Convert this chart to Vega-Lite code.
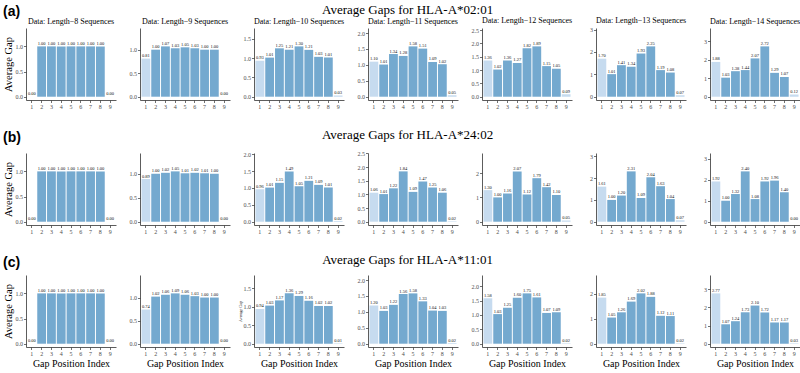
{
"$schema":"https://vega.github.io/schema/vega-lite/v6.json",
"padding":{"left":3,"top":3,"right":0,"bottom":0},
"data":{"values":[
{"allele":"HLA-A*02:01","len":8,"pos":1,"gap":0},{"allele":"HLA-A*02:01","len":8,"pos":2,"gap":1},{"allele":"HLA-A*02:01","len":8,"pos":3,"gap":1},{"allele":"HLA-A*02:01","len":8,"pos":4,"gap":1},{"allele":"HLA-A*02:01","len":8,"pos":5,"gap":1},{"allele":"HLA-A*02:01","len":8,"pos":6,"gap":1},{"allele":"HLA-A*02:01","len":8,"pos":7,"gap":1},{"allele":"HLA-A*02:01","len":8,"pos":8,"gap":1},{"allele":"HLA-A*02:01","len":8,"pos":9,"gap":0},
{"allele":"HLA-A*02:01","len":9,"pos":1,"gap":0.81},{"allele":"HLA-A*02:01","len":9,"pos":2,"gap":1.00},{"allele":"HLA-A*02:01","len":9,"pos":3,"gap":1.07},{"allele":"HLA-A*02:01","len":9,"pos":4,"gap":1.03},{"allele":"HLA-A*02:01","len":9,"pos":5,"gap":1.05},{"allele":"HLA-A*02:01","len":9,"pos":6,"gap":1.03},{"allele":"HLA-A*02:01","len":9,"pos":7,"gap":1.00},{"allele":"HLA-A*02:01","len":9,"pos":8,"gap":1.00},{"allele":"HLA-A*02:01","len":9,"pos":9,"gap":0.00},
{"allele":"HLA-A*02:01","len":10,"pos":1,"gap":0.93},{"allele":"HLA-A*02:01","len":10,"pos":2,"gap":1.01},{"allele":"HLA-A*02:01","len":10,"pos":3,"gap":1.25},{"allele":"HLA-A*02:01","len":10,"pos":4,"gap":1.21},{"allele":"HLA-A*02:01","len":10,"pos":5,"gap":1.30},{"allele":"HLA-A*02:01","len":10,"pos":6,"gap":1.21},{"allele":"HLA-A*02:01","len":10,"pos":7,"gap":1.03},{"allele":"HLA-A*02:01","len":10,"pos":8,"gap":1.01},{"allele":"HLA-A*02:01","len":10,"pos":9,"gap":0.03},
{"allele":"HLA-A*02:01","len":11,"pos":1,"gap":1.10},{"allele":"HLA-A*02:01","len":11,"pos":2,"gap":1.01},{"allele":"HLA-A*02:01","len":11,"pos":3,"gap":1.34},{"allele":"HLA-A*02:01","len":11,"pos":4,"gap":1.28},{"allele":"HLA-A*02:01","len":11,"pos":5,"gap":1.58},{"allele":"HLA-A*02:01","len":11,"pos":6,"gap":1.51},{"allele":"HLA-A*02:01","len":11,"pos":7,"gap":1.09},{"allele":"HLA-A*02:01","len":11,"pos":8,"gap":1.02},{"allele":"HLA-A*02:01","len":11,"pos":9,"gap":0.05},
{"allele":"HLA-A*02:01","len":12,"pos":1,"gap":1.36},{"allele":"HLA-A*02:01","len":12,"pos":2,"gap":1.02},{"allele":"HLA-A*02:01","len":12,"pos":3,"gap":1.36},{"allele":"HLA-A*02:01","len":12,"pos":4,"gap":1.27},{"allele":"HLA-A*02:01","len":12,"pos":5,"gap":1.82},{"allele":"HLA-A*02:01","len":12,"pos":6,"gap":1.89},{"allele":"HLA-A*02:01","len":12,"pos":7,"gap":1.15},{"allele":"HLA-A*02:01","len":12,"pos":8,"gap":1.05},{"allele":"HLA-A*02:01","len":12,"pos":9,"gap":0.09},
{"allele":"HLA-A*02:01","len":13,"pos":1,"gap":1.70},{"allele":"HLA-A*02:01","len":13,"pos":2,"gap":1.01},{"allele":"HLA-A*02:01","len":13,"pos":3,"gap":1.41},{"allele":"HLA-A*02:01","len":13,"pos":4,"gap":1.34},{"allele":"HLA-A*02:01","len":13,"pos":5,"gap":1.93},{"allele":"HLA-A*02:01","len":13,"pos":6,"gap":2.25},{"allele":"HLA-A*02:01","len":13,"pos":7,"gap":1.19},{"allele":"HLA-A*02:01","len":13,"pos":8,"gap":1.08},{"allele":"HLA-A*02:01","len":13,"pos":9,"gap":0.07},
{"allele":"HLA-A*02:01","len":14,"pos":1,"gap":1.88},{"allele":"HLA-A*02:01","len":14,"pos":2,"gap":1.03},{"allele":"HLA-A*02:01","len":14,"pos":3,"gap":1.38},{"allele":"HLA-A*02:01","len":14,"pos":4,"gap":1.44},{"allele":"HLA-A*02:01","len":14,"pos":5,"gap":2.07},{"allele":"HLA-A*02:01","len":14,"pos":6,"gap":2.72},{"allele":"HLA-A*02:01","len":14,"pos":7,"gap":1.29},{"allele":"HLA-A*02:01","len":14,"pos":8,"gap":1.07},{"allele":"HLA-A*02:01","len":14,"pos":9,"gap":0.12},
{"allele":"HLA-A*24:02","len":8,"pos":1,"gap":0},{"allele":"HLA-A*24:02","len":8,"pos":2,"gap":1},{"allele":"HLA-A*24:02","len":8,"pos":3,"gap":1},{"allele":"HLA-A*24:02","len":8,"pos":4,"gap":1},{"allele":"HLA-A*24:02","len":8,"pos":5,"gap":1},{"allele":"HLA-A*24:02","len":8,"pos":6,"gap":1},{"allele":"HLA-A*24:02","len":8,"pos":7,"gap":1},{"allele":"HLA-A*24:02","len":8,"pos":8,"gap":1},{"allele":"HLA-A*24:02","len":8,"pos":9,"gap":0},
{"allele":"HLA-A*24:02","len":9,"pos":1,"gap":0.89},{"allele":"HLA-A*24:02","len":9,"pos":2,"gap":1.00},{"allele":"HLA-A*24:02","len":9,"pos":3,"gap":1.02},{"allele":"HLA-A*24:02","len":9,"pos":4,"gap":1.05},{"allele":"HLA-A*24:02","len":9,"pos":5,"gap":1.01},{"allele":"HLA-A*24:02","len":9,"pos":6,"gap":1.02},{"allele":"HLA-A*24:02","len":9,"pos":7,"gap":1.01},{"allele":"HLA-A*24:02","len":9,"pos":8,"gap":1.00},{"allele":"HLA-A*24:02","len":9,"pos":9,"gap":0.00},
{"allele":"HLA-A*24:02","len":10,"pos":1,"gap":0.96},{"allele":"HLA-A*24:02","len":10,"pos":2,"gap":1.01},{"allele":"HLA-A*24:02","len":10,"pos":3,"gap":1.15},{"allele":"HLA-A*24:02","len":10,"pos":4,"gap":1.49},{"allele":"HLA-A*24:02","len":10,"pos":5,"gap":1.05},{"allele":"HLA-A*24:02","len":10,"pos":6,"gap":1.21},{"allele":"HLA-A*24:02","len":10,"pos":7,"gap":1.09},{"allele":"HLA-A*24:02","len":10,"pos":8,"gap":1.01},{"allele":"HLA-A*24:02","len":10,"pos":9,"gap":0.02},
{"allele":"HLA-A*24:02","len":11,"pos":1,"gap":1.06},{"allele":"HLA-A*24:02","len":11,"pos":2,"gap":1.01},{"allele":"HLA-A*24:02","len":11,"pos":3,"gap":1.22},{"allele":"HLA-A*24:02","len":11,"pos":4,"gap":1.84},{"allele":"HLA-A*24:02","len":11,"pos":5,"gap":1.09},{"allele":"HLA-A*24:02","len":11,"pos":6,"gap":1.47},{"allele":"HLA-A*24:02","len":11,"pos":7,"gap":1.25},{"allele":"HLA-A*24:02","len":11,"pos":8,"gap":1.06},{"allele":"HLA-A*24:02","len":11,"pos":9,"gap":0.02},
{"allele":"HLA-A*24:02","len":12,"pos":1,"gap":1.30},{"allele":"HLA-A*24:02","len":12,"pos":2,"gap":1.00},{"allele":"HLA-A*24:02","len":12,"pos":3,"gap":1.16},{"allele":"HLA-A*24:02","len":12,"pos":4,"gap":2.07},{"allele":"HLA-A*24:02","len":12,"pos":5,"gap":1.12},{"allele":"HLA-A*24:02","len":12,"pos":6,"gap":1.79},{"allele":"HLA-A*24:02","len":12,"pos":7,"gap":1.42},{"allele":"HLA-A*24:02","len":12,"pos":8,"gap":1.10},{"allele":"HLA-A*24:02","len":12,"pos":9,"gap":0.05},
{"allele":"HLA-A*24:02","len":13,"pos":1,"gap":1.61},{"allele":"HLA-A*24:02","len":13,"pos":2,"gap":1.00},{"allele":"HLA-A*24:02","len":13,"pos":3,"gap":1.20},{"allele":"HLA-A*24:02","len":13,"pos":4,"gap":2.31},{"allele":"HLA-A*24:02","len":13,"pos":5,"gap":1.09},{"allele":"HLA-A*24:02","len":13,"pos":6,"gap":2.04},{"allele":"HLA-A*24:02","len":13,"pos":7,"gap":1.63},{"allele":"HLA-A*24:02","len":13,"pos":8,"gap":1.04},{"allele":"HLA-A*24:02","len":13,"pos":9,"gap":0.07},
{"allele":"HLA-A*24:02","len":14,"pos":1,"gap":1.92},{"allele":"HLA-A*24:02","len":14,"pos":2,"gap":1.00},{"allele":"HLA-A*24:02","len":14,"pos":3,"gap":1.32},{"allele":"HLA-A*24:02","len":14,"pos":4,"gap":2.40},{"allele":"HLA-A*24:02","len":14,"pos":5,"gap":1.08},{"allele":"HLA-A*24:02","len":14,"pos":6,"gap":1.92},{"allele":"HLA-A*24:02","len":14,"pos":7,"gap":1.96},{"allele":"HLA-A*24:02","len":14,"pos":8,"gap":1.40},{"allele":"HLA-A*24:02","len":14,"pos":9,"gap":0.00},
{"allele":"HLA-A*11:01","len":8,"pos":1,"gap":0},{"allele":"HLA-A*11:01","len":8,"pos":2,"gap":1},{"allele":"HLA-A*11:01","len":8,"pos":3,"gap":1},{"allele":"HLA-A*11:01","len":8,"pos":4,"gap":1},{"allele":"HLA-A*11:01","len":8,"pos":5,"gap":1},{"allele":"HLA-A*11:01","len":8,"pos":6,"gap":1},{"allele":"HLA-A*11:01","len":8,"pos":7,"gap":1},{"allele":"HLA-A*11:01","len":8,"pos":8,"gap":1},{"allele":"HLA-A*11:01","len":8,"pos":9,"gap":0},
{"allele":"HLA-A*11:01","len":9,"pos":1,"gap":0.74},{"allele":"HLA-A*11:01","len":9,"pos":2,"gap":1.02},{"allele":"HLA-A*11:01","len":9,"pos":3,"gap":1.06},{"allele":"HLA-A*11:01","len":9,"pos":4,"gap":1.09},{"allele":"HLA-A*11:01","len":9,"pos":5,"gap":1.06},{"allele":"HLA-A*11:01","len":9,"pos":6,"gap":1.03},{"allele":"HLA-A*11:01","len":9,"pos":7,"gap":1.00},{"allele":"HLA-A*11:01","len":9,"pos":8,"gap":1.00},{"allele":"HLA-A*11:01","len":9,"pos":9,"gap":0.00},
{"allele":"HLA-A*11:01","len":10,"pos":1,"gap":0.94},{"allele":"HLA-A*11:01","len":10,"pos":2,"gap":1.03},{"allele":"HLA-A*11:01","len":10,"pos":3,"gap":1.17},{"allele":"HLA-A*11:01","len":10,"pos":4,"gap":1.36},{"allele":"HLA-A*11:01","len":10,"pos":5,"gap":1.29},{"allele":"HLA-A*11:01","len":10,"pos":6,"gap":1.16},{"allele":"HLA-A*11:01","len":10,"pos":7,"gap":1.02},{"allele":"HLA-A*11:01","len":10,"pos":8,"gap":1.02},{"allele":"HLA-A*11:01","len":10,"pos":9,"gap":0.01},
{"allele":"HLA-A*11:01","len":11,"pos":1,"gap":1.20},{"allele":"HLA-A*11:01","len":11,"pos":2,"gap":1.03},{"allele":"HLA-A*11:01","len":11,"pos":3,"gap":1.22},{"allele":"HLA-A*11:01","len":11,"pos":4,"gap":1.56},{"allele":"HLA-A*11:01","len":11,"pos":5,"gap":1.58},{"allele":"HLA-A*11:01","len":11,"pos":6,"gap":1.33},{"allele":"HLA-A*11:01","len":11,"pos":7,"gap":1.04},{"allele":"HLA-A*11:01","len":11,"pos":8,"gap":1.03},{"allele":"HLA-A*11:01","len":11,"pos":9,"gap":0.02},
{"allele":"HLA-A*11:01","len":12,"pos":1,"gap":1.58},{"allele":"HLA-A*11:01","len":12,"pos":2,"gap":1.03},{"allele":"HLA-A*11:01","len":12,"pos":3,"gap":1.25},{"allele":"HLA-A*11:01","len":12,"pos":4,"gap":1.60},{"allele":"HLA-A*11:01","len":12,"pos":5,"gap":1.75},{"allele":"HLA-A*11:01","len":12,"pos":6,"gap":1.61},{"allele":"HLA-A*11:01","len":12,"pos":7,"gap":1.07},{"allele":"HLA-A*11:01","len":12,"pos":8,"gap":1.09},{"allele":"HLA-A*11:01","len":12,"pos":9,"gap":0.02},
{"allele":"HLA-A*11:01","len":13,"pos":1,"gap":1.85},{"allele":"HLA-A*11:01","len":13,"pos":2,"gap":1.05},{"allele":"HLA-A*11:01","len":13,"pos":3,"gap":1.26},{"allele":"HLA-A*11:01","len":13,"pos":4,"gap":1.69},{"allele":"HLA-A*11:01","len":13,"pos":5,"gap":2.02},{"allele":"HLA-A*11:01","len":13,"pos":6,"gap":1.88},{"allele":"HLA-A*11:01","len":13,"pos":7,"gap":1.12},{"allele":"HLA-A*11:01","len":13,"pos":8,"gap":1.11},{"allele":"HLA-A*11:01","len":13,"pos":9,"gap":0.02},
{"allele":"HLA-A*11:01","len":14,"pos":1,"gap":2.77},{"allele":"HLA-A*11:01","len":14,"pos":2,"gap":1.07},{"allele":"HLA-A*11:01","len":14,"pos":3,"gap":1.24},{"allele":"HLA-A*11:01","len":14,"pos":4,"gap":1.73},{"allele":"HLA-A*11:01","len":14,"pos":5,"gap":2.10},{"allele":"HLA-A*11:01","len":14,"pos":6,"gap":1.72},{"allele":"HLA-A*11:01","len":14,"pos":7,"gap":1.17},{"allele":"HLA-A*11:01","len":14,"pos":8,"gap":1.17},{"allele":"HLA-A*11:01","len":14,"pos":9,"gap":0.03}
]},
"spacing":19,
"vconcat":[
{"title":{"text":"(a)","anchor":"start","font":"Liberation Sans","fontWeight":"bold","fontSize":14,"offset":-15},
 "vconcat":[{"title":{"text":"Average Gaps for HLA-A*02:01","anchor":"middle","fontSize":13,"offset":0,"dx":6},"bounds":"flush","spacing":24,"hconcat":[
 {"width":90,"height":72,"title":"Data: Length−8 Sequences","transform":[{"filter":"datum.allele==='HLA-A*02:01'&&datum.len===8"}],"encoding":{"x":{"field":"pos","type":"ordinal","scale":{"paddingInner":0.1,"paddingOuter":0.15},"axis":{"title":null}},"y":{"field":"gap","type":"quantitative","scale":{"domain":[-0.065,1.365],"nice":false,"zero":false},"axis":{"values":[0,0.5,1],"format":".1f","title":"Average Gap"}}},"layer":[{"mark":"bar","encoding":{"color":{"condition":{"test":"datum.pos===1||datum.pos===9","value":"#c6dbef"},"value":"#74a9cf"}}},{"mark":{"type":"text","baseline":"bottom","dy":-0.5,"fontSize":4.5,"color":"#111"},"encoding":{"text":{"field":"gap","type":"quantitative","format":".2f"}}}]},
 {"width":90,"height":72,"title":"Data: Length−9 Sequences","transform":[{"filter":"datum.allele==='HLA-A*02:01'&&datum.len===9"}],"encoding":{"x":{"field":"pos","type":"ordinal","scale":{"paddingInner":0.1,"paddingOuter":0.15},"axis":{"title":null}},"y":{"field":"gap","type":"quantitative","scale":{"domain":[-0.07,1.461],"nice":false,"zero":false},"axis":{"values":[0,0.5,1],"format":".1f","title":null}}},"layer":[{"mark":"bar","encoding":{"color":{"condition":{"test":"datum.pos===1||datum.pos===9","value":"#c6dbef"},"value":"#74a9cf"}}},{"mark":{"type":"text","baseline":"bottom","dy":-0.5,"fontSize":4.5,"color":"#111"},"encoding":{"text":{"field":"gap","type":"quantitative","format":".2f"}}}]},
 {"width":90,"height":72,"title":"Data: Length−10 Sequences","transform":[{"filter":"datum.allele==='HLA-A*02:01'&&datum.len===10"}],"encoding":{"x":{"field":"pos","type":"ordinal","scale":{"paddingInner":0.1,"paddingOuter":0.15},"axis":{"title":null}},"y":{"field":"gap","type":"quantitative","scale":{"domain":[-0.085,1.775],"nice":false,"zero":false},"axis":{"values":[0,0.5,1,1.5],"format":".1f","title":null}}},"layer":[{"mark":"bar","encoding":{"color":{"condition":{"test":"datum.pos===1||datum.pos===9","value":"#c6dbef"},"value":"#74a9cf"}}},{"mark":{"type":"text","baseline":"bottom","dy":-0.5,"fontSize":4.5,"color":"#111"},"encoding":{"text":{"field":"gap","type":"quantitative","format":".2f"}}}]},
 {"width":90,"height":72,"title":"Data: Length−11 Sequences","transform":[{"filter":"datum.allele==='HLA-A*02:01'&&datum.len===11"}],"encoding":{"x":{"field":"pos","type":"ordinal","scale":{"paddingInner":0.1,"paddingOuter":0.15},"axis":{"title":null}},"y":{"field":"gap","type":"quantitative","scale":{"domain":[-0.103,2.157],"nice":false,"zero":false},"axis":{"values":[0,0.5,1,1.5,2],"format":".1f","title":null}}},"layer":[{"mark":"bar","encoding":{"color":{"condition":{"test":"datum.pos===1||datum.pos===9","value":"#c6dbef"},"value":"#74a9cf"}}},{"mark":{"type":"text","baseline":"bottom","dy":-0.5,"fontSize":4.5,"color":"#111"},"encoding":{"text":{"field":"gap","type":"quantitative","format":".2f"}}}]},
 {"width":90,"height":72,"title":"Data: Length−12 Sequences","transform":[{"filter":"datum.allele==='HLA-A*02:01'&&datum.len===12"}],"encoding":{"x":{"field":"pos","type":"ordinal","scale":{"paddingInner":0.1,"paddingOuter":0.15},"axis":{"title":null}},"y":{"field":"gap","type":"quantitative","scale":{"domain":[-0.123,2.58],"nice":false,"zero":false},"axis":{"values":[0,0.5,1,1.5,2,2.5],"format":".1f","title":null}}},"layer":[{"mark":"bar","encoding":{"color":{"condition":{"test":"datum.pos===1||datum.pos===9","value":"#c6dbef"},"value":"#74a9cf"}}},{"mark":{"type":"text","baseline":"bottom","dy":-0.5,"fontSize":4.5,"color":"#111"},"encoding":{"text":{"field":"gap","type":"quantitative","format":".2f"}}}]},
 {"width":90,"height":72,"title":"Data: Length−13 Sequences","transform":[{"filter":"datum.allele==='HLA-A*02:01'&&datum.len===13"}],"encoding":{"x":{"field":"pos","type":"ordinal","scale":{"paddingInner":0.1,"paddingOuter":0.15},"axis":{"title":null}},"y":{"field":"gap","type":"quantitative","scale":{"domain":[-0.146,3.071],"nice":false,"zero":false},"axis":{"values":[0,1,2,3],"format":"d","title":null}}},"layer":[{"mark":"bar","encoding":{"color":{"condition":{"test":"datum.pos===1||datum.pos===9","value":"#c6dbef"},"value":"#74a9cf"}}},{"mark":{"type":"text","baseline":"bottom","dy":-0.5,"fontSize":4.5,"color":"#111"},"encoding":{"text":{"field":"gap","type":"quantitative","format":".2f"}}}]},
 {"width":90,"height":72,"title":"Data: Length−14 Sequences","transform":[{"filter":"datum.allele==='HLA-A*02:01'&&datum.len===14"}],"encoding":{"x":{"field":"pos","type":"ordinal","scale":{"paddingInner":0.1,"paddingOuter":0.15},"axis":{"title":null}},"y":{"field":"gap","type":"quantitative","scale":{"domain":[-0.177,3.713],"nice":false,"zero":false},"axis":{"values":[0,1,2,3],"format":"d","title":null}}},"layer":[{"mark":"bar","encoding":{"color":{"condition":{"test":"datum.pos===1||datum.pos===9","value":"#c6dbef"},"value":"#74a9cf"}}},{"mark":{"type":"text","baseline":"bottom","dy":-0.5,"fontSize":4.5,"color":"#111"},"encoding":{"text":{"field":"gap","type":"quantitative","format":".2f"}}}]}
 ]}]},
{"title":{"text":"(b)","anchor":"start","font":"Liberation Sans","fontWeight":"bold","fontSize":14,"offset":-16},
 "vconcat":[{"title":{"text":"Average Gaps for HLA-A*24:02","anchor":"middle","fontSize":13,"offset":8,"dx":6},"bounds":"flush","spacing":24,"hconcat":[
 {"width":90,"height":72,"transform":[{"filter":"datum.allele==='HLA-A*24:02'&&datum.len===8"}],"encoding":{"x":{"field":"pos","type":"ordinal","scale":{"paddingInner":0.1,"paddingOuter":0.15},"axis":{"title":null}},"y":{"field":"gap","type":"quantitative","scale":{"domain":[-0.065,1.365],"nice":false,"zero":false},"axis":{"values":[0,0.5,1],"format":".1f","title":"Average Gap"}}},"layer":[{"mark":"bar","encoding":{"color":{"condition":{"test":"datum.pos===1||datum.pos===9","value":"#c6dbef"},"value":"#74a9cf"}}},{"mark":{"type":"text","baseline":"bottom","dy":-0.5,"fontSize":4.5,"color":"#111"},"encoding":{"text":{"field":"gap","type":"quantitative","format":".2f"}}}]},
 {"width":90,"height":72,"transform":[{"filter":"datum.allele==='HLA-A*24:02'&&datum.len===9"}],"encoding":{"x":{"field":"pos","type":"ordinal","scale":{"paddingInner":0.1,"paddingOuter":0.15},"axis":{"title":null}},"y":{"field":"gap","type":"quantitative","scale":{"domain":[-0.068,1.433],"nice":false,"zero":false},"axis":{"values":[0,0.5,1],"format":".1f","title":null}}},"layer":[{"mark":"bar","encoding":{"color":{"condition":{"test":"datum.pos===1||datum.pos===9","value":"#c6dbef"},"value":"#74a9cf"}}},{"mark":{"type":"text","baseline":"bottom","dy":-0.5,"fontSize":4.5,"color":"#111"},"encoding":{"text":{"field":"gap","type":"quantitative","format":".2f"}}}]},
 {"width":90,"height":72,"transform":[{"filter":"datum.allele==='HLA-A*24:02'&&datum.len===10"}],"encoding":{"x":{"field":"pos","type":"ordinal","scale":{"paddingInner":0.1,"paddingOuter":0.15},"axis":{"title":null}},"y":{"field":"gap","type":"quantitative","scale":{"domain":[-0.097,2.034],"nice":false,"zero":false},"axis":{"values":[0,0.5,1,1.5,2],"format":".1f","title":null}}},"layer":[{"mark":"bar","encoding":{"color":{"condition":{"test":"datum.pos===1||datum.pos===9","value":"#c6dbef"},"value":"#74a9cf"}}},{"mark":{"type":"text","baseline":"bottom","dy":-0.5,"fontSize":4.5,"color":"#111"},"encoding":{"text":{"field":"gap","type":"quantitative","format":".2f"}}}]},
 {"width":90,"height":72,"transform":[{"filter":"datum.allele==='HLA-A*24:02'&&datum.len===11"}],"encoding":{"x":{"field":"pos","type":"ordinal","scale":{"paddingInner":0.1,"paddingOuter":0.15},"axis":{"title":null}},"y":{"field":"gap","type":"quantitative","scale":{"domain":[-0.12,2.512],"nice":false,"zero":false},"axis":{"values":[0,0.5,1,1.5,2,2.5],"format":".1f","title":null}}},"layer":[{"mark":"bar","encoding":{"color":{"condition":{"test":"datum.pos===1||datum.pos===9","value":"#c6dbef"},"value":"#74a9cf"}}},{"mark":{"type":"text","baseline":"bottom","dy":-0.5,"fontSize":4.5,"color":"#111"},"encoding":{"text":{"field":"gap","type":"quantitative","format":".2f"}}}]},
 {"width":90,"height":72,"transform":[{"filter":"datum.allele==='HLA-A*24:02'&&datum.len===12"}],"encoding":{"x":{"field":"pos","type":"ordinal","scale":{"paddingInner":0.1,"paddingOuter":0.15},"axis":{"title":null}},"y":{"field":"gap","type":"quantitative","scale":{"domain":[-0.135,2.826],"nice":false,"zero":false},"axis":{"values":[0,1,2],"format":"d","title":null}}},"layer":[{"mark":"bar","encoding":{"color":{"condition":{"test":"datum.pos===1||datum.pos===9","value":"#c6dbef"},"value":"#74a9cf"}}},{"mark":{"type":"text","baseline":"bottom","dy":-0.5,"fontSize":4.5,"color":"#111"},"encoding":{"text":{"field":"gap","type":"quantitative","format":".2f"}}}]},
 {"width":90,"height":72,"transform":[{"filter":"datum.allele==='HLA-A*24:02'&&datum.len===13"}],"encoding":{"x":{"field":"pos","type":"ordinal","scale":{"paddingInner":0.1,"paddingOuter":0.15},"axis":{"title":null}},"y":{"field":"gap","type":"quantitative","scale":{"domain":[-0.15,3.153],"nice":false,"zero":false},"axis":{"values":[0,1,2,3],"format":"d","title":null}}},"layer":[{"mark":"bar","encoding":{"color":{"condition":{"test":"datum.pos===1||datum.pos===9","value":"#c6dbef"},"value":"#74a9cf"}}},{"mark":{"type":"text","baseline":"bottom","dy":-0.5,"fontSize":4.5,"color":"#111"},"encoding":{"text":{"field":"gap","type":"quantitative","format":".2f"}}}]},
 {"width":90,"height":72,"transform":[{"filter":"datum.allele==='HLA-A*24:02'&&datum.len===14"}],"encoding":{"x":{"field":"pos","type":"ordinal","scale":{"paddingInner":0.1,"paddingOuter":0.15},"axis":{"title":null}},"y":{"field":"gap","type":"quantitative","scale":{"domain":[-0.156,3.276],"nice":false,"zero":false},"axis":{"values":[0,1,2,3],"format":"d","title":null}}},"layer":[{"mark":"bar","encoding":{"color":{"condition":{"test":"datum.pos===1||datum.pos===9","value":"#c6dbef"},"value":"#74a9cf"}}},{"mark":{"type":"text","baseline":"bottom","dy":-0.5,"fontSize":4.5,"color":"#111"},"encoding":{"text":{"field":"gap","type":"quantitative","format":".2f"}}}]}
 ]}]},
{"title":{"text":"(c)","anchor":"start","font":"Liberation Sans","fontWeight":"bold","fontSize":14,"offset":-16},
 "vconcat":[{"title":{"text":"Average Gaps for HLA-A*11:01","anchor":"middle","fontSize":13,"offset":8,"dx":6},"bounds":"flush","spacing":24,"hconcat":[
 {"width":90,"height":72,"transform":[{"filter":"datum.allele==='HLA-A*11:01'&&datum.len===8"}],"encoding":{"x":{"field":"pos","type":"ordinal","scale":{"paddingInner":0.1,"paddingOuter":0.15},"axis":{"title":"Gap Position Index"}},"y":{"field":"gap","type":"quantitative","scale":{"domain":[-0.065,1.365],"nice":false,"zero":false},"axis":{"values":[0,0.5,1],"format":".1f","title":"Average Gap"}}},"layer":[{"mark":"bar","encoding":{"color":{"condition":{"test":"datum.pos===1||datum.pos===9","value":"#c6dbef"},"value":"#74a9cf"}}},{"mark":{"type":"text","baseline":"bottom","dy":-0.5,"fontSize":4.5,"color":"#111"},"encoding":{"text":{"field":"gap","type":"quantitative","format":".2f"}}}]},
 {"width":90,"height":72,"transform":[{"filter":"datum.allele==='HLA-A*11:01'&&datum.len===9"}],"encoding":{"x":{"field":"pos","type":"ordinal","scale":{"paddingInner":0.1,"paddingOuter":0.15},"axis":{"title":"Gap Position Index"}},"y":{"field":"gap","type":"quantitative","scale":{"domain":[-0.071,1.488],"nice":false,"zero":false},"axis":{"values":[0,0.5,1],"format":".1f","title":null}}},"layer":[{"mark":"bar","encoding":{"color":{"condition":{"test":"datum.pos===1||datum.pos===9","value":"#c6dbef"},"value":"#74a9cf"}}},{"mark":{"type":"text","baseline":"bottom","dy":-0.5,"fontSize":4.5,"color":"#111"},"encoding":{"text":{"field":"gap","type":"quantitative","format":".2f"}}}]},
 {"width":90,"height":72,"transform":[{"filter":"datum.allele==='HLA-A*11:01'&&datum.len===10"}],"encoding":{"x":{"field":"pos","type":"ordinal","scale":{"paddingInner":0.1,"paddingOuter":0.15},"axis":{"title":"Gap Position Index"}},"y":{"field":"gap","type":"quantitative","scale":{"domain":[-0.088,1.856],"nice":false,"zero":false},"axis":{"values":[0,0.5,1,1.5],"format":".1f","title":"Average Gap","titleFontSize":4,"titlePadding":1}}},"layer":[{"mark":"bar","encoding":{"color":{"condition":{"test":"datum.pos===1||datum.pos===9","value":"#c6dbef"},"value":"#74a9cf"}}},{"mark":{"type":"text","baseline":"bottom","dy":-0.5,"fontSize":4.5,"color":"#111"},"encoding":{"text":{"field":"gap","type":"quantitative","format":".2f"}}}]},
 {"width":90,"height":72,"transform":[{"filter":"datum.allele==='HLA-A*11:01'&&datum.len===11"}],"encoding":{"x":{"field":"pos","type":"ordinal","scale":{"paddingInner":0.1,"paddingOuter":0.15},"axis":{"title":"Gap Position Index"}},"y":{"field":"gap","type":"quantitative","scale":{"domain":[-0.103,2.157],"nice":false,"zero":false},"axis":{"values":[0,0.5,1,1.5,2],"format":".1f","title":null}}},"layer":[{"mark":"bar","encoding":{"color":{"condition":{"test":"datum.pos===1||datum.pos===9","value":"#c6dbef"},"value":"#74a9cf"}}},{"mark":{"type":"text","baseline":"bottom","dy":-0.5,"fontSize":4.5,"color":"#111"},"encoding":{"text":{"field":"gap","type":"quantitative","format":".2f"}}}]},
 {"width":90,"height":72,"transform":[{"filter":"datum.allele==='HLA-A*11:01'&&datum.len===12"}],"encoding":{"x":{"field":"pos","type":"ordinal","scale":{"paddingInner":0.1,"paddingOuter":0.15},"axis":{"title":"Gap Position Index"}},"y":{"field":"gap","type":"quantitative","scale":{"domain":[-0.114,2.389],"nice":false,"zero":false},"axis":{"values":[0,0.5,1,1.5,2],"format":".1f","title":null}}},"layer":[{"mark":"bar","encoding":{"color":{"condition":{"test":"datum.pos===1||datum.pos===9","value":"#c6dbef"},"value":"#74a9cf"}}},{"mark":{"type":"text","baseline":"bottom","dy":-0.5,"fontSize":4.5,"color":"#111"},"encoding":{"text":{"field":"gap","type":"quantitative","format":".2f"}}}]},
 {"width":90,"height":72,"transform":[{"filter":"datum.allele==='HLA-A*11:01'&&datum.len===13"}],"encoding":{"x":{"field":"pos","type":"ordinal","scale":{"paddingInner":0.1,"paddingOuter":0.15},"axis":{"title":"Gap Position Index"}},"y":{"field":"gap","type":"quantitative","scale":{"domain":[-0.131,2.757],"nice":false,"zero":false},"axis":{"values":[0,1,2],"format":"d","title":null}}},"layer":[{"mark":"bar","encoding":{"color":{"condition":{"test":"datum.pos===1||datum.pos===9","value":"#c6dbef"},"value":"#74a9cf"}}},{"mark":{"type":"text","baseline":"bottom","dy":-0.5,"fontSize":4.5,"color":"#111"},"encoding":{"text":{"field":"gap","type":"quantitative","format":".2f"}}}]},
 {"width":90,"height":72,"transform":[{"filter":"datum.allele==='HLA-A*11:01'&&datum.len===14"}],"encoding":{"x":{"field":"pos","type":"ordinal","scale":{"paddingInner":0.1,"paddingOuter":0.15},"axis":{"title":"Gap Position Index"}},"y":{"field":"gap","type":"quantitative","scale":{"domain":[-0.18,3.781],"nice":false,"zero":false},"axis":{"values":[0,1,2,3],"format":"d","title":null}}},"layer":[{"mark":"bar","encoding":{"color":{"condition":{"test":"datum.pos===1||datum.pos===9","value":"#c6dbef"},"value":"#74a9cf"}}},{"mark":{"type":"text","baseline":"bottom","dy":-0.5,"fontSize":4.5,"color":"#111"},"encoding":{"text":{"field":"gap","type":"quantitative","format":".2f"}}}]}
 ]}]}
],
"config":{
 "view":{"stroke":null},
 "text":{"font":"Liberation Serif"},
 "title":{"font":"Liberation Serif","fontWeight":"normal","fontSize":8,"color":"#000","offset":2},
 "style":{
   "guide-label":{"font":"Liberation Serif","fontSize":6,"fill":"#4d4d4d"},
   "guide-title":{"font":"Liberation Serif","fontSize":10.5,"fontWeight":"normal","fill":"#000"}
 },
 "axis":{"grid":false,"domainColor":"#333","domainWidth":0.8,"tickColor":"#333","tickWidth":0.7,"tickSize":2.5,"labelFont":"Liberation Serif","labelFontSize":6,"labelColor":"#4d4d4d","labelPadding":1,"titleFont":"Liberation Serif","titleFontSize":10.5,"titleFontWeight":"normal","titleColor":"#000","titlePadding":2},
 "axisX":{"labelAngle":0,"titleFontSize":10,"titleFont":"Liberation Serif","titleFontWeight":"normal","titlePadding":2},
 "axisY":{"titleFont":"Liberation Serif","titleFontWeight":"normal","titlePadding":2}
}
}
